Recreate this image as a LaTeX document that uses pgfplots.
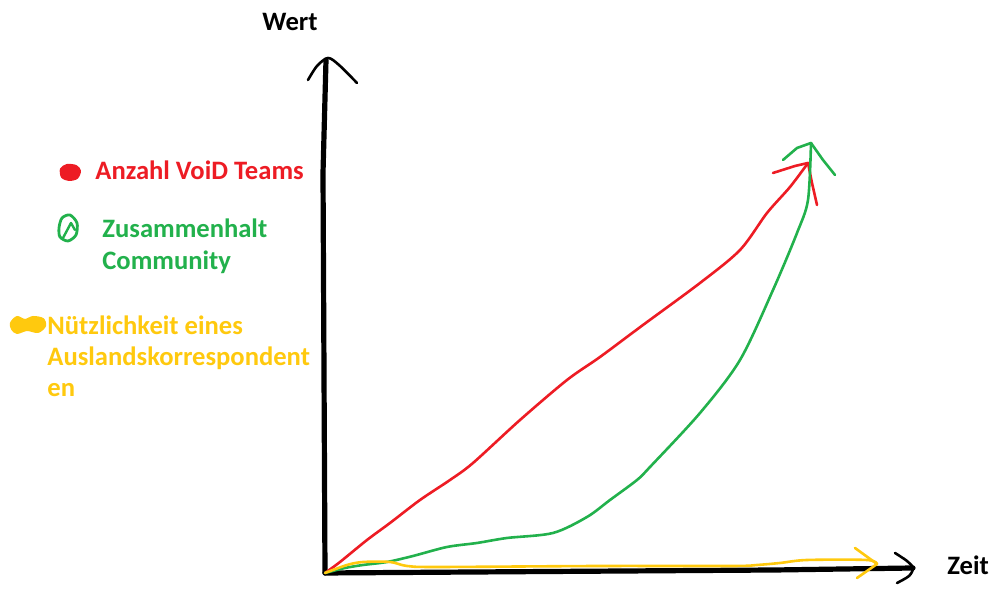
\documentclass[border=0pt]{standalone}
\usepackage{pgfplots}
\pgfplotsset{compat=1.18}
\usepackage{fontspec}
\setmainfont{Carlito}
\definecolor{pred}{HTML}{ED1C24}
\definecolor{pgreen}{HTML}{22B14C}
\definecolor{pyellow}{HTML}{FFC90E}
\begin{document}
\begin{tikzpicture}
\begin{axis}[
  scale only axis, width=496pt, height=296pt,
  xmin=-325, xmax=667, ymin=-19, ymax=573,
  axis lines=none, clip=false,
  every axis plot/.append style={line cap=round, line join=round},
]
% bounding helper
\addplot[draw=none] coordinates {(-325,-19) (667,573)};
% axes (hand drawn)
\addplot[black, line width=2.6pt] coordinates {(0,0) (150,1) (300,2) (450,3) (588,5)};
\addplot[black, line width=1.3pt, smooth] coordinates {(570,20) (582,12) (588,5) (584,-3) (572,-10)};
\addplot[black, line width=2.6pt] coordinates {(0,0) (-1,200) (-2,400) (1,513)};
\addplot[black, line width=1.3pt, smooth] coordinates {(-17,493) (-8,507) (3,515) (14,508) (32,490)};
% Anzahl VoiD Teams
\addplot[pred, line width=1.3pt, smooth] coordinates {
(0,0) (15,11) (42,33) (65,50) (95,73) (125,93) (148,110) (195,153) (242,193)
(275,216) (318,248) (375,290) (415,323) (442,360) (465,386) (483,410)};
\addplot[pred, line width=1.3pt] coordinates {(448,400) (470,407) (483,410) (487,390) (492,368)};
% Zusammenhalt Community
\addplot[pgreen, line width=1.3pt, smooth] coordinates {
(0,0) (20,5) (38,8) (62,11) (88,17) (122,26) (152,30) (182,35) (228,40) (262,56)
(285,73) (312,93) (325,106) (375,160) (415,213) (448,283) (472,340) (483,373) (486,430)};
\addplot[pgreen, line width=1.3pt] coordinates {(458,413) (472,425) (486,430) (498,413) (510,398)};
% Nuetzlichkeit
\addplot[pyellow, line width=1.3pt, smooth] coordinates {
(0,0) (22,8) (38,11) (65,11) (82,7) (112,6) (275,7) (408,7) (432,8) (455,10) (482,13) (542,13) (552,9)};
\addplot[pyellow, line width=1.3pt] coordinates {(530,25) (552,9) (532,-5)};
% legend scribbles
\addplot[pred, fill=pred, line width=1pt, smooth cycle] coordinates {
(-264,404) (-258,408) (-249,407) (-245,402) (-248,395) (-256,393) (-263,396)};
\addplot[pgreen, line width=1.4pt, smooth cycle] coordinates {
(-266,345) (-263,355) (-255,358) (-248,350) (-249,338) (-257,332) (-265,336)};
\addplot[pgreen, line width=1.2pt] coordinates {(-262,335) (-254,350) (-250,343)};
\addplot[pyellow, fill=pyellow, line width=1pt, smooth cycle] coordinates {
(-314,250) (-308,256) (-300,253) (-292,256) (-282,254) (-280,247) (-287,241) (-298,243) (-308,240) (-313,244)};
% texts
\begin{scope}[every node/.style={inner sep=0pt, font=\fontsize{13.3}{16}\selectfont\bfseries}]
\node[black] at (axis cs:-35,551) {Wert};
\node[black, anchor=west] at (axis cs:622,8) {Zeit};
\node[pred, anchor=west] at (axis cs:-230,403) {Anzahl VoiD Teams};
\node[pgreen, anchor=west] at (axis cs:-223,345) {Zusammenhalt};
\node[pgreen, anchor=west] at (axis cs:-223,311) {Community};
\node[pyellow, anchor=west] at (axis cs:-278,248) {Nützlichkeit eines};
\node[pyellow, anchor=west] at (axis cs:-278,215) {Auslandskorrespondent};
\node[pyellow, anchor=west] at (axis cs:-278,183) {en};
\end{scope}
\end{axis}
\end{tikzpicture}
\end{document}
